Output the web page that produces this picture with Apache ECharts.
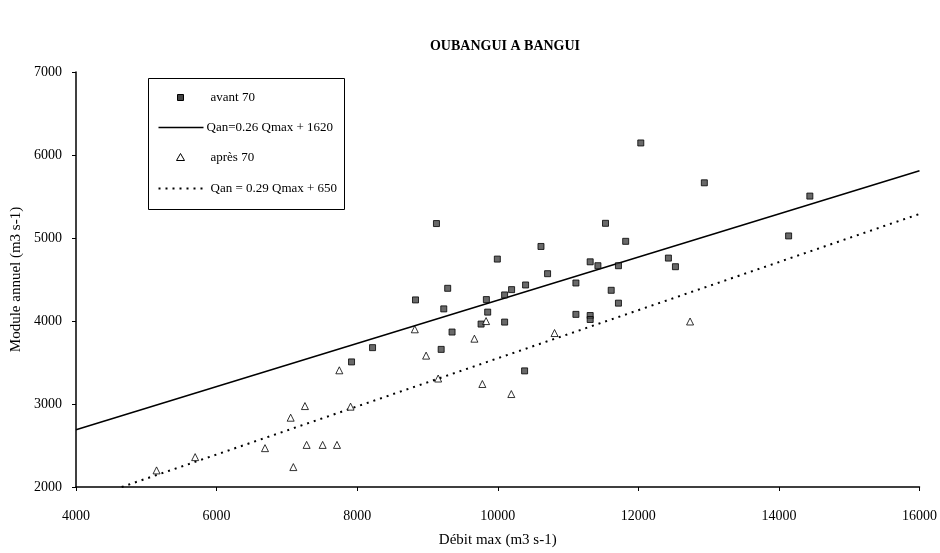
<!DOCTYPE html>
<html>
<head>
<meta charset="utf-8">
<script src="https://cdn.jsdelivr.net/npm/echarts@6/dist/echarts.min.js"></script>
<style>html,body{margin:0;padding:0;background:#fff}#c{width:940px;height:553px}</style>
</head>
<body>
<div id="c"></div>
<script>
// Avant 1970: [Débit max, Module annuel]
const avant70 = [
  [7920,3507],[8219,3679],[8830,4254],[9128,5174],[9195,3658],[9232,4146],
  [9288,4394],[9350,3867],[9763,3963],[9838,4258],[9857,4107],[9994,4746],
  [10098,4314],[10098,3987],[10197,4378],[10382,3399],[10396,4434],[10615,4898],
  [10709,4570],[11112,4458],[11112,4080],[11315,4713],[11315,4066],[11315,4018],
  [11425,4666],[11533,5177],[11614,4370],[11717,4666],[11717,4215],[11820,4960],
  [12035,6145],[12428,4758],[12528,4654],[12939,5665],[14138,5025],[14440,5505]
];
// Après 1970
const apres70 = [
  [5146,2200],[5695,2360],[6689,2468],[7054,2835],[7092,2240],[7257,2975],
  [7281,2507],[7509,2507],[7713,2507],[7746,3406],[7906,2968],[8820,3900],
  [8981,3583],[9152,3307],[9668,3787],[9781,3241],[9834,3999],[10193,3120],
  [10808,3855],[12736,3994]
];
// regression line end points
const lineAvant = [[4000,2690],[16000,5810]];
const lineApres = [[4650,2000],[16000,5290]];

const names = ['avant 70','Qan=0.26 Qmax + 1620','après 70','Qan = 0.29 Qmax + 650'];
const xTicks = {min:4000, max:16000, interval:2000};
const yTicks = {min:2000, max:7000, interval:1000};

const FONT = 'Liberation Serif';
const chart = echarts.init(document.getElementById('c'), null, {renderer:'canvas'});

// hand-drawn legend box (real text)
const LX = 148, LY = 78;
const rowY = [19, 49, 79, 110];
const legendGraphic = {
  type:'group', left:LX, top:LY, z:10,
  children:[
    {type:'rect', shape:{x:0, y:0, width:196, height:131},
     style:{fill:'#fff', stroke:'#000', lineWidth:1}},
    {type:'rect', shape:{x:29, y:rowY[0]-3, width:6, height:6},
     style:{fill:'#444', stroke:'#000', lineWidth:1}},
    {type:'text', x:62, y:rowY[0], style:{text:names[0], font:'13px '+FONT, fill:'#000', textVerticalAlign:'middle'}},
    {type:'line', shape:{x1:10, y1:rowY[1], x2:55, y2:rowY[1]},
     style:{stroke:'#000', lineWidth:1.5}},
    {type:'text', x:58, y:rowY[1], style:{text:names[1], font:'13px '+FONT, fill:'#000', textVerticalAlign:'middle'}},
    {type:'polygon', shape:{points:[[32,rowY[2]-4],[36,rowY[2]+3],[28,rowY[2]+3]]},
     style:{fill:'#fff', stroke:'#000', lineWidth:1}},
    {type:'text', x:62, y:rowY[2], style:{text:names[2], font:'13px '+FONT, fill:'#000', textVerticalAlign:'middle'}},
    {type:'line', shape:{x1:10, y1:rowY[3], x2:55, y2:rowY[3]},
     style:{stroke:'#000', lineWidth:2, lineDash:[2,5]}},
    {type:'text', x:62, y:rowY[3], style:{text:names[3], font:'13px '+FONT, fill:'#000', textVerticalAlign:'middle'}}
  ]
};

chart.setOption({
  animation:false,
  backgroundColor:'#fff',
  title:{
    text:'OUBANGUI A BANGUI', left:500, textAlign:'center', top:34,
    textStyle:{fontFamily:FONT, fontSize:14, fontWeight:'bold', color:'#000'}
  },
  graphic:[legendGraphic],
  grid:{left:76, right:20, top:72, bottom:64},
  xAxis:{
    type:'value', min:xTicks.min, max:xTicks.max, interval:xTicks.interval,
    name:'Débit max (m3 s-1)', nameLocation:'middle', nameGap:46,
    nameTextStyle:{fontFamily:FONT, fontSize:15, color:'#000'},
    axisLine:{lineStyle:{color:'#000', width:1.5}},
    axisTick:{show:true, length:4, lineStyle:{color:'#000'}},
    axisLabel:{fontFamily:FONT, fontSize:14, color:'#000', margin:22, formatter:v => String(v)},
    splitLine:{show:false}
  },
  yAxis:{
    type:'value', min:yTicks.min, max:yTicks.max, interval:yTicks.interval,
    name:'Module annuel (m3 s-1)', nameLocation:'middle', nameGap:52, nameRotate:90,
    nameTextStyle:{fontFamily:FONT, fontSize:15, color:'#000'},
    axisLine:{show:true, lineStyle:{color:'#000', width:1.5}},
    axisTick:{show:true, length:4, lineStyle:{color:'#000'}},
    axisLabel:{fontFamily:FONT, fontSize:14, color:'#000', margin:14, formatter:v => String(v)},
    splitLine:{show:false}
  },
  series:[
    {name:names[0], type:'scatter', data:avant70, symbol:'rect', symbolSize:6,
     itemStyle:{color:'#444', borderColor:'#000', borderWidth:1}, z:3},
    {name:names[1], type:'line', data:lineAvant, symbol:'none',
     lineStyle:{color:'#000', width:1.5, type:'solid'}, z:2},
    {name:names[2], type:'scatter', data:apres70, symbol:'triangle', symbolSize:7,
     itemStyle:{color:'#fff', borderColor:'#000', borderWidth:1}, z:3},
    {name:names[3], type:'line', data:lineApres, symbol:'none',
     lineStyle:{color:'#000', width:2, type:[2,5]}, z:2}
  ]
});
</script>
</body>
</html>
